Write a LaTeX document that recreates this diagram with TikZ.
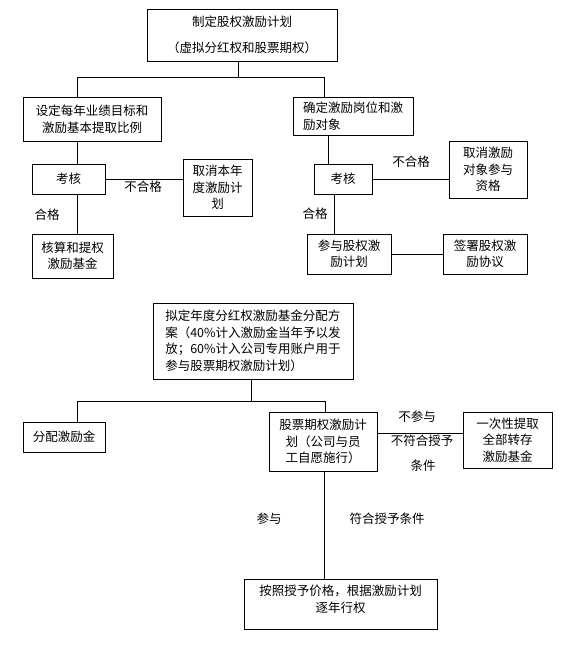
\documentclass[tikz,border=0pt]{standalone}
\usepackage{fontspec}
\setmainfont{Noto Sans CJK SC}
\newcommand\fs{\fontsize{12.5}{16.5}\selectfont}
\tikzset{
  box/.style={draw, line width=0.9pt, inner sep=0pt, align=center, font=\fs},
  lbl/.style={inner sep=0pt, font=\fs},
  conn/.style={line width=0.9pt},
}
\begin{document}
\begin{tikzpicture}[x=1pt,y=-1pt]
\useasboundingbox[fill=white] (0,0) rectangle (565,650);
% boxes
\node[box, minimum width=190, minimum height=52] (top) at (242,35) {制定股权激励计划\\[9pt]（虚拟分红权和股票期权）};
\node[box, minimum width=138, minimum height=44] (set) at (92,119) {设定每年业绩目标和\\激励基本提取比例};
\node[box, minimum width=73, minimum height=30] (kh1) at (68.5,179) {考核};
\node[box, minimum width=69, minimum height=57] (qx1) at (217.5,187.5) {取消本年\\度激励计\\划};
\node[box, minimum width=81, minimum height=44] (hs) at (72.5,256) {核算和提权\\激励基金};
\node[box, minimum width=120, minimum height=38, align=left] (qd) at (353,116) {确定激励岗位和激\\励对象};
\node[box, minimum width=58, minimum height=30] (kh2) at (343,179) {考核};
\node[box, minimum width=78, minimum height=57] (qx2) at (488,169.5) {取消激励\\对象参与\\资格};
\node[box, minimum width=84, minimum height=40] (cy) at (349,254) {参与股权激\\励计划};
\node[box, minimum width=84, minimum height=40] (qs) at (485,254) {签署股权激\\励协议};
\node[box, minimum width=200, minimum height=76, align=left] (nd) at (253,341) {拟定年度分红权激励基金分配方\\案（40\%计入激励金当年予以发\\放；60\%计入公司专用账户用于\\参与股票期权激励计划）};
\node[box, minimum width=82, minimum height=30] (fp) at (64,437) {分配激励金};
\node[box, minimum width=108, minimum height=59] (gp) at (323,441.5) {股票期权激励计\\划（公司与员\\工自愿施行）};
\node[box, minimum width=89, minimum height=56] (yc) at (507.5,440) {一次性提取\\全部转存\\激励基金};
\node[box, minimum width=193, minimum height=50] (aj) at (340.5,604) {};
\node[lbl, align=center] (ajt) at (340.5,599) {按照授予价格，根据激励计划\\逐年行权};
% labels
\node[lbl] (l1) at (143,187) {不合格};
\node[lbl] (l2) at (47,215) {合格};
\node[lbl] (l3) at (411,162) {不合格};
\node[lbl] (l4) at (315,214) {合格};
\node[lbl] (l5) at (417,417) {不参与};
\node[lbl] (l6) at (422,441) {不符合授予};
\node[lbl] (l7) at (423,466) {条件};
\node[lbl] (l8) at (269,519) {参与};
\node[lbl] (l9) at (387,519) {符合授予条件};
% junction coordinates
\coordinate (j0) at (238,77);
\coordinate (j1) at (77,77);
\coordinate (j2) at (324,77);
\coordinate (x328) at (328,0);
\coordinate (x334) at (334,0);
\coordinate (j3) at (251,401);
\coordinate (j4) at (77,401);
\coordinate (j5) at (325,401);
\coordinate (y433) at (0,433);
\coordinate (x324) at (324,0);
% connectors
\draw[conn] (j0 |- top.south) -- (j0);
\draw[conn] (j1 |- set.north) -- (j1) -- (j2) -- (j2 |- qd.north);
\draw[conn] (j1 |- set.south) -- (j1 |- kh1.north);
\draw[conn] (kh1.east) -- (kh1.east -| qx1.west);
\draw[conn] (j1 |- kh1.south) -- (j1 |- hs.north);
\draw[conn] (x328 |- qd.south) -- (x328 |- kh2.north);
\draw[conn] (kh2.east) -- (kh2.east -| qx2.west);
\draw[conn] (x334 |- kh2.south) -- (x334 |- cy.north);
\draw[conn] (cy.east) -- (qs.west);
\draw[conn] (j3 |- nd.south) -- (j3);
\draw[conn] (j4 |- fp.north) -- (j4) -- (j5) -- (j5 |- gp.north);
\draw[conn] (y433 -| gp.east) -- (y433 -| yc.west);
\draw[conn] (x324 |- gp.south) -- (x324 |- aj.north);
\end{tikzpicture}
\end{document}
